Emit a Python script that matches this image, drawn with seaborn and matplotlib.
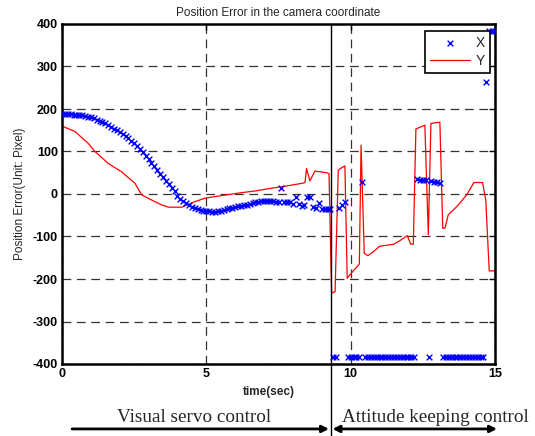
import numpy as np
import pandas as pd
import matplotlib
matplotlib.use("Agg")
import matplotlib.pyplot as plt
import seaborn as sns

# ---------------- data ----------------
# X error samples (one every 0.1 s, 0.0 .. 15.0 s)
x_time = np.round(np.arange(0, 151) * 0.1, 1)
x_err = [
    188, 188, 188, 188, 187, 187, 186, 185, 184, 182,
    180, 178, 175, 172, 169, 166, 162, 158, 154, 150,
    146, 141, 136, 131, 125, 119, 113, 106, 98, 90,
    82, 74, 65, 57, 48, 40, 31, 23, 15, 6,
    -4, -11, -17, -22, -26, -30, -33, -36, -38, -39,
    -40, -41, -42, -42, -41, -40, -38, -36, -34, -32,
    -31, -29, -28, -27, -26, -24, -21, -19, -18, -17,
    -17, -17, -17, -17, -18, -18, 15, -19, -19, -20,
    -23, -6, -24, -28, -26, -8, -8, -30, -34, -22,
    -35, -36, -36, -35, -383, -383, -32, -26, -18, -383,
    -383, -383, -383, -383, 29, -383, -383, -383, -383, -383,
    -383, -383, -383, -383, -383, -383, -383, -383, -383, -383,
    -383, -383, -383, 35, 34, 33, 32, -383, 30, 29,
    28, 27, -383, -383, -383, -383, -383, -383, -383, -383,
    -383, -383, -383, -383, -383, -383, -383, 263, 383, 383,
    383,
]

# Y error polyline vertices
y_time = [0, 0.45, 0.91, 1.14, 1.6, 2.07, 2.53, 2.76, 3.1, 3.4,
          3.68, 4.15, 4.6, 4.95, 5.3, 5.8, 6.2, 6.68, 7.2, 7.7,
          8.3, 8.42, 8.47, 8.59, 8.76, 9.17, 9.25, 9.34, 9.46, 9.57,
          9.69, 9.8, 9.88, 10.1, 10.3, 10.36, 10.47, 10.6, 10.8, 11.0,
          11.5, 11.7, 11.96, 12.08, 12.17, 12.26, 12.57, 12.69, 12.78, 13.09,
          13.19, 13.27, 13.38, 13.67, 14.02, 14.27, 14.57, 14.68, 14.8, 15.0]
y_err = [160, 147, 119, 100, 72, 52, 25, -2, -14, -24,
         -31, -31, -18, -10, -6, -1, 3, 7, 13, 18,
         25, 27, 60, 31, 54, 50, 48, -233, -230, 56,
         62, 66, -198, -180, -165, 115, -140, -145, -135, -123,
         -118, -110, -98, -118, -118, 153, 162, -96, 166, 169,
         -81, -80, -49, -30, -2, 27, 27, -14, -181, -181]

switch_time = 9.31
x_ticks = [0, 5, 10, 15]
y_ticks = [-400, -300, -200, -100, 0, 100, 200, 300, 400]

title = "Position Error in the camera coordinate"
xlabel = "time(sec)"
ylabel = "Position Error(Unit: Pixel)"
phase1 = "Visual servo control"
phase2 = "Attitude keeping control"

df_x = pd.DataFrame({"t": x_time, "err": x_err})
df_y = pd.DataFrame({"t": y_time, "err": y_err})

# ---------------- figure ----------------
sns.set_style("white")
plt.rcParams["font.family"] = ["Liberation Sans", "DejaVu Sans"]

fig = plt.figure(figsize=(5.35, 4.36), dpi=100)
ax = fig.add_axes([62 / 535, 1 - 364 / 436, 433 / 535, 340 / 436])

sns.scatterplot(data=df_x, x="t", y="err", marker="x", s=17, color="#0000ff",
                linewidth=1.0, ax=ax, label="X", zorder=3)
sns.lineplot(data=df_y, x="t", y="err", color="#ff0000", linewidth=0.9,
             sort=False, estimator=None, ax=ax, label="Y", zorder=2)

ax.set_xlim(0, 15)
ax.set_ylim(-400, 400)
ax.set_xticks(x_ticks)
ax.set_yticks(y_ticks)
ax.set_xticklabels([str(v) for v in x_ticks], fontsize=9, fontweight="bold")
ax.set_yticklabels([str(v) for v in y_ticks], fontsize=9, fontweight="bold")
ax.tick_params(direction="in", top=True, right=True, length=4, width=1,
               pad=3, colors="black")

ax.grid(True, color="#333333", linestyle=(0, (7, 4.5)), linewidth=0.9)
ax.set_axisbelow(True)
for sp in ax.spines.values():
    sp.set_linewidth(1.8)
    sp.set_color("black")

ax.set_title(title, fontsize=8.5, pad=6)
ax.set_xlabel(xlabel, fontsize=8.5, fontweight="bold")
ax.xaxis.set_label_coords((269 - 62) / 433, -0.066)
ax.set_ylabel(ylabel, fontsize=8.5)
ax.yaxis.set_label_coords(-0.084, 0.5)

leg = ax.legend(loc="upper right", bbox_to_anchor=(0.988, 0.979),
                borderaxespad=0, fontsize=10, handlelength=2.9,
                handletextpad=0.4, labelspacing=0.3, borderpad=0.35,
                fancybox=False, framealpha=1, edgecolor="black")
leg.get_frame().set_linewidth(1.2)

# vertical switch line extending below the axes
ax.axvline(switch_time, ymin=-0.22, ymax=1.0, color="black", linewidth=1.0,
           clip_on=False, zorder=4)

# phase annotations
trans = ("data", "axes fraction")
ax.annotate("", xy=(9.25, -0.191), xytext=(0.35, -0.191), xycoords=trans,
            textcoords=trans,
            arrowprops=dict(arrowstyle="-|>", color="black", lw=2,
                            mutation_scale=10, shrinkA=0, shrinkB=0))
ax.annotate("", xy=(15.07, -0.191), xytext=(9.37, -0.191), xycoords=trans,
            textcoords=trans,
            arrowprops=dict(arrowstyle="<|-|>", color="black", lw=2,
                            mutation_scale=10, shrinkA=0, shrinkB=0))
ax.text(4.57, -0.171, phase1, transform=ax.get_xaxis_transform(),
        ha="center", va="baseline", fontsize=13.8, family="Liberation Serif")
ax.text(12.95, -0.171, phase2, transform=ax.get_xaxis_transform(),
        ha="center", va="baseline", fontsize=13.8, family="Liberation Serif")

fig.savefig("out.png", dpi=100)
